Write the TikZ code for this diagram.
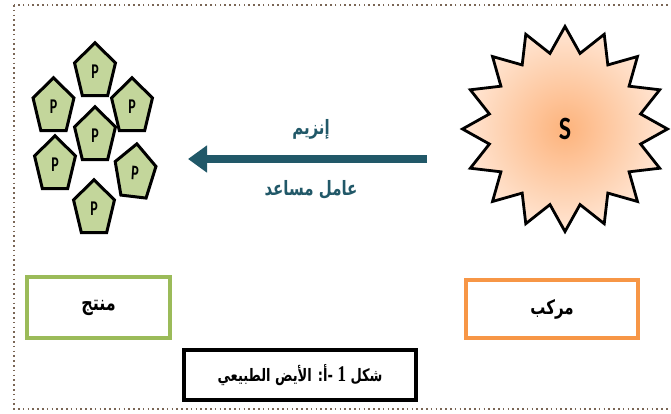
\documentclass[tikz,border=0pt]{standalone}
\usepackage{fontspec}
\usepackage{graphicx}
\usetikzlibrary{shapes.geometric,arrows.meta}
\TeXXeTstate=1
\newfontfamily\arabicfont[Script=Arabic]{DejaVu Sans}
\newfontfamily\pfont{Carlito}
\newfontfamily\numfont{Liberation Serif}
\definecolor{pgreen}{HTML}{C3D69B}
\definecolor{boxgreen}{HTML}{9BBB59}
\definecolor{boxorange}{HTML}{F79646}
\definecolor{teal}{HTML}{215868}
\definecolor{dotcol}{HTML}{7A6656}
\definecolor{starin}{HTML}{FDB37C}
\definecolor{starout}{HTML}{FFE6D4}
\newcommand{\tall}[1]{\scalebox{1}[1.32]{#1}}
\tikzset{
  frame/.style={draw=dotcol, line width=1.6pt, dash pattern=on 1.6pt off 3.2pt},
  pent/.style={regular polygon, regular polygon sides=5, draw=black, line width=3pt,
    fill=pgreen, minimum size=43pt, inner sep=0pt, yscale=1.36,
    font=\pfont\bfseries\fontsize{14}{14}\selectfont},
  starshape/.style={star, star points=16, star point ratio=1.33, minimum size=205pt,
    inner sep=0pt, draw=black, line width=2.8pt, shading=radial, inner color=starin, outer color=starout,
    font=\pfont\bfseries\fontsize{26}{26}\selectfont},
  bigarrow/.style={draw=teal, line width=8pt, -{Triangle[length=19pt,width=26pt]}},
  arlabel/.style={text=teal, font=\arabicfont\bfseries\fontsize{15}{18}\selectfont, inner sep=0pt},
  labelbox/.style={line width=4pt, minimum width=#1, inner sep=0pt, font=\arabicfont\bfseries\fontsize{15}{18}\selectfont},
}
\begin{document}
\begin{tikzpicture}[x=1pt,y=-1pt]
\useasboundingbox (0,0) rectangle (671,413);
\clip (0,0) rectangle (671,413);
\fill[white] (0,0) rectangle (671,413);
\draw[frame] (14,5) rectangle (700,409);
% pentagons
\node[pent] (p1) at (95,72) {\scalebox{1}[1.1]{P}};
\node[pent] (p2) at (53.5,107) {\scalebox{1}[1.1]{P}};
\node[pent] (p3) at (132,107) {\scalebox{1}[1.1]{P}};
\node[pent] (p4) at (95,136) {\scalebox{1}[1.1]{P}};
\node[pent] (p5) at (55,165) {\scalebox{1}[1.1]{P}};
\node[pent, rotate=-5] (p6) at (135,173) {\scalebox{1}[1.1]{P}};
\node[pent] (p7) at (94,209) {\scalebox{1}[1.1]{P}};
% star
\node[starshape] (s) at (565,129) {\scalebox{1}[1.25]{S}};
% arrow
\coordinate (astart) at (427,159);
\coordinate (aend) at (188,159);
\draw[bigarrow] (astart) -- (aend);
\node[arlabel] (enz) at (311,129) {\tall{\beginR إنزيم\endR}};
\node[arlabel] (cof) at (311,190) {\tall{\beginR عامل مساعد\endR}};
% boxes
\node[labelbox=143pt, draw=boxgreen, minimum height=61pt, font=\arabicfont\bfseries\fontsize{16}{18}\selectfont] (prod) at (98.5,307.5) {\tall{\beginR منتج\endR}};
\node[labelbox=172pt, draw=boxorange, minimum height=58pt] (comp) at (552,309) {\tall{\beginR مركب\endR}};
\node[labelbox=232pt, draw=black, minimum height=50pt, font=\arabicfont\bfseries\fontsize{13}{16}\selectfont] (cap) at (300,375)
  {\tall{\beginR شكل {\numfont\bfseries\fontsize{17}{17}\selectfont 1} -أ: الأيض الطبيعي\endR}};
\end{tikzpicture}
\end{document}
